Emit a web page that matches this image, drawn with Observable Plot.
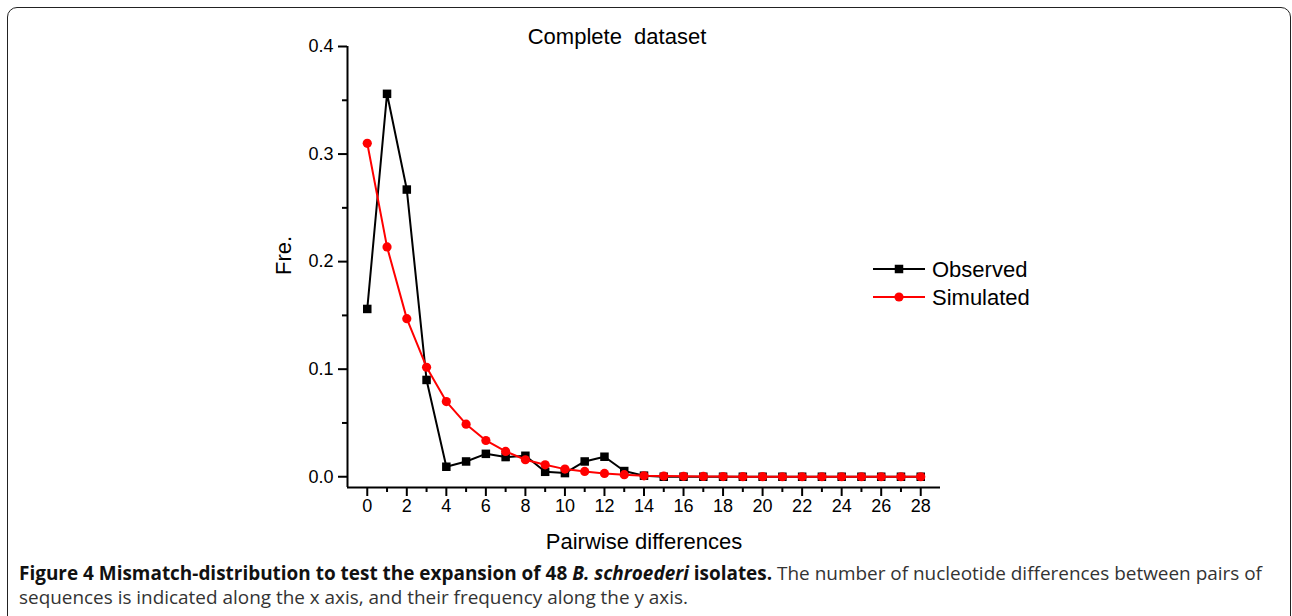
<!DOCTYPE html>
<html><head><meta charset="utf-8">
<script src="https://cdn.jsdelivr.net/npm/d3@7"></script>
<script src="https://cdn.jsdelivr.net/npm/@observablehq/plot@0.6"></script>
<style>
html,body{margin:0;padding:0;background:#fff;}
#fig{position:relative;width:1292px;height:616px;overflow:hidden;font-family:"Liberation Sans",Arial,sans-serif;}
#border{position:absolute;left:7px;top:7px;width:1284px;height:650px;border:1.5px solid #222;border-radius:10px;box-sizing:border-box;}
#chart{position:absolute;left:0;top:0;}
#legend{position:absolute;left:0;top:0;}
.cap{position:absolute;left:19px;white-space:nowrap;font-family:"Open Sans",sans-serif;font-size:19px;line-height:19px;color:#333;transform-origin:0 0;}
.cap b{color:#111;}
</style></head><body>
<div id="fig">
<div id="border"></div>
<div id="chart"></div>
<svg id="legend" width="1292" height="616"></svg>
<div class="cap" id="cap1" style="top:564px"><b>Figure 4 Mismatch-distribution to test the expansion of 48 <i>B. schroederi</i> isolates.</b> The number of nucleotide differences between pairs of</div>
<div class="cap" id="cap2" style="top:588px">sequences is indicated along the x axis, and their frequency along the y axis.</div>
</div>
<script>
// ---- data ----
const diffs = [0,1,2,3,4,5,6,7,8,9,10,11,12,13,14,15,16,17,18,19,20,21,22,23,24,25,26,27,28];
const observed = [0.156,0.356,0.267,0.090,0.0093,0.0142,0.0213,0.0183,0.0195,0.0046,0.0034,0.0142,0.0186,0.0053,0.001,0,0,0,0,0,0,0,0,0,0,0,0,0,0];
const simulated = [0.310,0.2137,0.147,0.1018,0.0699,0.0489,0.0337,0.0235,0.0158,0.0111,0.0071,0.0049,0.0031,0.0019,0.0009,0.0006,0.0004,0.0003,0.0002,0.0001,0.0001,0,0,0,0,0,0,0,0];
const xMajor = [0,2,4,6,8,10,12,14,16,18,20,22,24,26,28];
const xMinor = [1,3,5,7,9,11,13,15,17,19,21,23,25,27];
const yMajor = [0,0.1,0.2,0.3,0.4];
const yMinor = [0.05,0.15,0.25,0.35];
const xDomain = [-1,29];
const yDomain = [-0.01,0.4];
const seriesNames = ["Observed","Simulated"];
const titleText = "Complete\u00a0\u00a0dataset";
const xLabel = "Pairwise differences";
const yLabel = "Fre.";

const obs = diffs.map((d,i)=>({x:d,y:observed[i]}));
const sim = diffs.map((d,i)=>({x:d,y:simulated[i]}));

const plot = Plot.plot({
  width:1292, height:555,
  marginLeft:347, marginRight:352, marginTop:46, marginBottom:68,
  x:{domain:xDomain, axis:null},
  y:{domain:yDomain, axis:null},
  style:{fontFamily:"'Liberation Sans', Arial, sans-serif", color:"#000", background:"transparent", overflow:"visible"},
  marks:[
    Plot.ruleY([yDomain[0]],{stroke:"#000",strokeWidth:2}),
    Plot.ruleX([xDomain[0]],{stroke:"#000",strokeWidth:2}),
    Plot.axisX({ticks:xMajor,tickSize:9,tickPadding:3,fontSize:18,strokeWidth:2,strokeOpacity:1,label:null,tickFormat:d=>String(d)}),
    Plot.axisX({ticks:xMinor,tickSize:5,strokeWidth:2,strokeOpacity:1,label:null,tickFormat:()=>""}),
    Plot.axisY({ticks:yMajor,tickSize:9,tickPadding:5,fontSize:18,strokeWidth:2,strokeOpacity:1,label:null,tickFormat:d3.format(".1f")}),
    Plot.axisY({ticks:yMinor,tickSize:5,strokeWidth:2,strokeOpacity:1,label:null,tickFormat:()=>""}),
    Plot.line(obs,{x:"x",y:"y",stroke:"#000",strokeWidth:2}),
    Plot.dot(obs,{x:"x",y:"y",symbol:"square",r:4.8,fill:"#000"}),
    Plot.line(sim,{x:"x",y:"y",stroke:"#ff0000",strokeWidth:2}),
    Plot.dot(sim,{x:"x",y:"y",r:4.6,fill:"#ff0000"}),
    Plot.text([titleText],{frameAnchor:"top",lineAnchor:"bottom",dx:-27,dy:-3,fontSize:22,fill:"#000"}),
    Plot.text([xLabel],{frameAnchor:"bottom",lineAnchor:"bottom",dy:61,fontSize:22,fill:"#000"}),
    Plot.text([yLabel],{frameAnchor:"left",rotate:-90,lineAnchor:"bottom",dx:-57,dy:8,fontSize:22,fill:"#000"})
  ]
});
document.getElementById("chart").appendChild(plot);

// legend
const lg = d3.select("#legend");
const items = [{name:seriesNames[0],color:"#000",sym:"square",cy:269},{name:seriesNames[1],color:"#ff0000",sym:"circle",cy:297}];
items.forEach(it=>{
  const g = lg.append("g");
  g.append("line").attr("x1",873).attr("x2",925).attr("y1",it.cy).attr("y2",it.cy).attr("stroke",it.color).attr("stroke-width",2);
  if(it.sym==="square") g.append("rect").attr("x",899-4.25).attr("y",it.cy-4.25).attr("width",8.5).attr("height",8.5).attr("fill",it.color);
  else g.append("circle").attr("cx",899).attr("cy",it.cy).attr("r",4.6).attr("fill",it.color);
  g.append("text").attr("x",932).attr("y",it.cy).attr("dy","0.36em").attr("font-size",22).attr("font-family","'Liberation Sans', Arial, sans-serif").attr("fill","#000").text(it.name);
});

function fitCaps(){
  [["cap1",1243],["cap2",669]].forEach(([id,w])=>{
    const el=document.getElementById(id);
    el.style.transform="none";
    const cw=el.getBoundingClientRect().width;
    el.style.transform=`scaleX(${w/cw})`;
  });
}
fitCaps();
if(document.fonts&&document.fonts.ready) document.fonts.ready.then(fitCaps);
</script>
</body></html>
